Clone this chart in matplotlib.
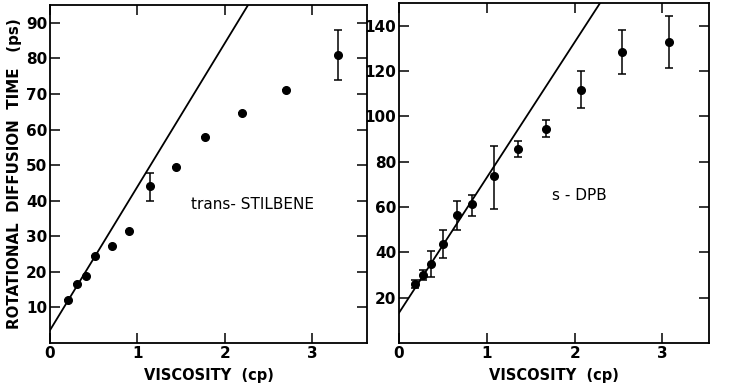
import matplotlib
matplotlib.use("Agg")
import matplotlib.pyplot as plt
import numpy as np

# trans-stilbene
ts_visc = [0.21, 0.31, 0.41, 0.51, 0.71, 0.91, 1.14, 1.44, 1.78, 2.20, 2.70, 3.30]
ts_time = [12.2, 16.5, 18.8, 24.5, 27.2, 31.5, 44.1, 49.4, 57.9, 64.6, 71.1, 80.9]
ts_err_lo = [0, 0, 0, 0, 0, 0, 4.1, 0, 0, 0, 0, 7.0]
ts_err_hi = [0, 0, 0, 0, 0, 0, 3.6, 0, 0, 0, 0, 7.0]
ts_fit = [3.6, 40.3]  # intercept, slope

# s-DPB
dpb_visc = [0.185, 0.27, 0.37, 0.50, 0.66, 0.83, 1.08, 1.355, 1.67, 2.07, 2.54, 3.08]
dpb_time = [25.9, 30.1, 34.8, 43.7, 56.6, 61.2, 73.6, 85.6, 94.5, 111.6, 128.4, 132.9]
dpb_err_lo = [1.8, 2.4, 5.6, 6.2, 6.7, 5.1, 14.5, 3.7, 3.8, 7.9, 9.7, 11.4]
dpb_err_hi = [1.8, 2.0, 5.9, 6.2, 6.1, 4.0, 13.1, 3.3, 4.0, 8.3, 9.7, 11.2]
dpb_fit = [13.3, 59.7]

fig = plt.figure(figsize=(7.46, 3.88), dpi=100)
ax1 = fig.add_axes([50/746, 1-343/388, 317/746, 338/388])
ax2 = fig.add_axes([399/746, 1-343/388, 310/746, 340/388])

tick_font = dict(family="DejaVu Sans", weight="bold", size=11)
lab_font = dict(family="DejaVu Sans", weight="bold", size=10.5)

def style(ax, xmax, ymax, yticks):
    ax.set_xlim(0, xmax)
    ax.set_ylim(0, ymax)
    ax.set_xticks([0, 1, 2, 3])
    ax.set_yticks(yticks)
    ax.tick_params(direction="in", length=7, width=1.1, top=True, right=True, pad=2)
    ax.tick_params(axis="x", pad=2)
    for s in ax.spines.values():
        s.set_linewidth(1.3)
    for lbl in ax.get_xticklabels() + ax.get_yticklabels():
        lbl.set_fontfamily(tick_font["family"])
        lbl.set_fontweight(tick_font["weight"])
        lbl.set_fontsize(tick_font["size"])
    ax.set_xlabel("VISCOSITY  (cp)", labelpad=5, **lab_font)

style(ax1, 3.63, 95, [10, 20, 30, 40, 50, 60, 70, 80, 90])
style(ax2, 3.53, 150, [20, 40, 60, 80, 100, 120, 140])

# left panel
xl = np.array([0, 3.63])
ax1.plot(xl, ts_fit[0] + ts_fit[1] * xl, color="black", lw=1.3)
ax1.errorbar(ts_visc, ts_time, yerr=[ts_err_lo, ts_err_hi], fmt="o", color="black",
             ms=5.5, elinewidth=1.1, capsize=3, capthick=1.1)
ax1.text(1.61, 38.8, "trans- STILBENE", fontsize=11, family="DejaVu Sans", va="center")
ax1.set_ylabel("ROTATIONAL  DIFFUSION  TIME   (ps)", labelpad=3, fontsize=10.8,
               family="DejaVu Sans", weight="bold")

# right panel
xr = np.array([0, 3.53])
ax2.plot(xr, dpb_fit[0] + dpb_fit[1] * xr, color="black", lw=1.3)
ax2.errorbar(dpb_visc, dpb_time, yerr=[dpb_err_lo, dpb_err_hi], fmt="o", color="black",
             ms=5.5, elinewidth=1.1, capsize=3, capthick=1.1)
ax2.text(1.74, 65.2, "s - DPB", fontsize=11, family="DejaVu Sans", va="center")

fig.savefig("out.png", dpi=100)
